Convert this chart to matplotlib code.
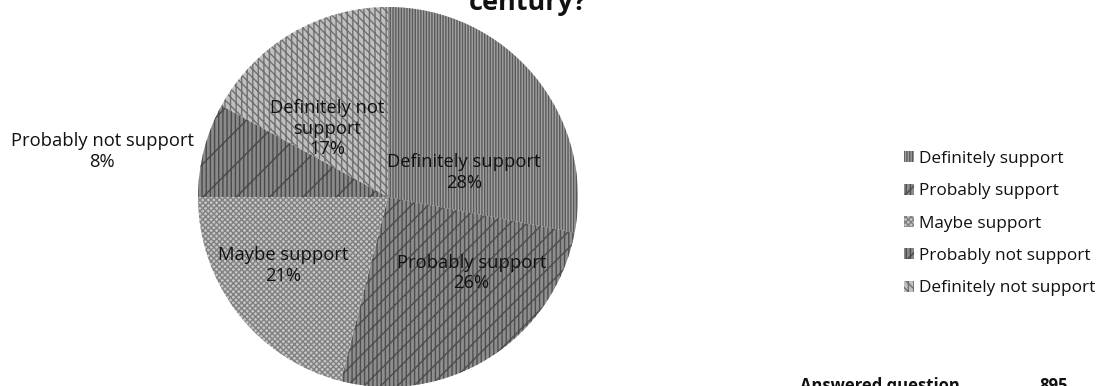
import matplotlib
matplotlib.use("Agg")
import matplotlib.pyplot as plt

# Survey responses
categories = ["Definitely support", "Probably support", "Maybe support",
              "Probably not support", "Definitely not support"]
shares = [28, 26, 21, 8, 17]
answered_label = "Answered question"
answered_count = 895
title_tail = "century?"

# Grey fills with hatch textures per slice
faces = ["#a2a2a2", "#8e8e8e", "#c6c6c6", "#8a8a8a", "#c0c0c0"]
edges = ["#5a5a5a", "#4e4e4e", "#808080", "#4a4a4a", "#707070"]
hatches = ["||||||", "||||//", "xxxxxx", "||||/", "\\\\\\\\|||"]

# Label anchors inside the pie (axes data units)
label_pos = [(0.40, 0.13), (0.44, -0.40), (-0.55, -0.36),
             (-1.505, 0.24), (-0.32, 0.36)]
label_text = ["Definitely support", "Probably support", "Maybe support",
              "Probably not support", "Definitely not\nsupport"]

plt.rcParams["font.family"] = ["Open Sans", "DejaVu Sans"]
plt.rcParams["hatch.linewidth"] = 1.0

W, H = 1120, 386
fig = plt.figure(figsize=(W / 100, H / 100), dpi=100)

cx, cy, r = 388, 386 - 197, 190
ax = fig.add_axes([(cx - r) / W, (cy - r) / H, 2 * r / W, 2 * r / H])
wedges, _ = ax.pie(shares, startangle=90, counterclock=False, radius=1.0,
                   colors=faces, wedgeprops=dict(linewidth=0))
for w, ec, h in zip(wedges, edges, hatches):
    w.set_edgecolor(ec)
    w.set_hatch(h)
ax.set_xlim(-1, 1)
ax.set_ylim(-1, 1)
ax.set_aspect("auto")
ax.axis("off")

for (x, y), txt, v in zip(label_pos, label_text, shares):
    ax.text(x, y, f"{txt}\n{v}%", ha="center", va="center", fontsize=13.2,
            color="#111111", linespacing=1.2, clip_on=False)

# Legend
leg = fig.legend(wedges, categories, loc="upper left",
                 bbox_to_anchor=(897 / W, 1 - 144 / H), frameon=False,
                 fontsize=12.4, handlelength=0.6, handleheight=0.6,
                 handletextpad=0.3, labelspacing=0.95, borderaxespad=0,
                 labelcolor="#111111")

# Title tail and respondent count, both clipped by the canvas edge
fig.text(528 / W, 1 - 10 / H, title_tail, ha="center", va="baseline",
         fontsize=19.5, fontweight="bold", color="#111111")
fig.text(800 / W, 1 - 377 / H, answered_label, ha="left", va="top",
         fontsize=12, fontweight="bold", color="#111111")
fig.text(1068 / W, 1 - 377 / H, str(answered_count), ha="right", va="top",
         fontsize=12, fontweight="bold", color="#111111")

fig.savefig("out.png", dpi=100)
